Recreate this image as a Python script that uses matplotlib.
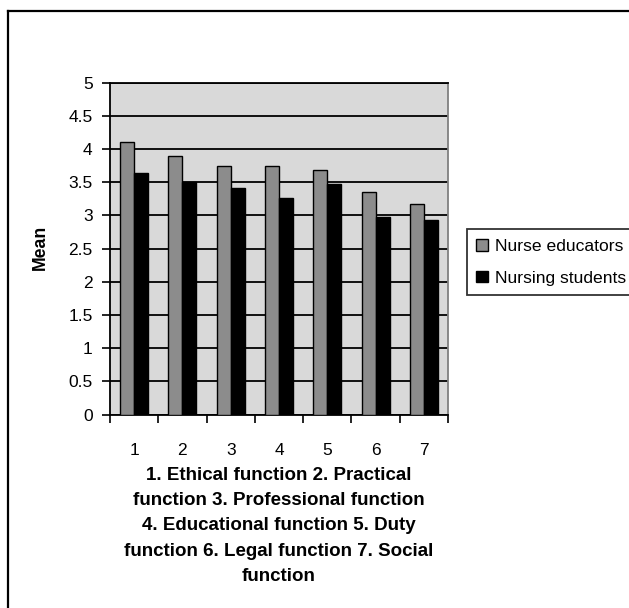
import matplotlib
matplotlib.use('Agg')
import matplotlib.pyplot as plt
from matplotlib.patches import Patch
from matplotlib.lines import Line2D
import numpy as np

plt.rcParams['font.family'] = ['Liberation Sans', 'DejaVu Sans']

# mean score per function (1..7)
functions = ['1', '2', '3', '4', '5', '6', '7']
educators = [4.10, 3.89, 3.74, 3.74, 3.68, 3.35, 3.18]
students = [3.64, 3.50, 3.41, 3.26, 3.47, 2.98, 2.93]
series_names = ['Nurse educators', 'Nursing students']
xlabel_text = ('1. Ethical function 2. Practical\n'
               'function 3. Professional function\n'
               '4. Educational function 5. Duty\n'
               'function 6. Legal function 7. Social\n'
               'function')

W, H = 629, 608
fig = plt.figure(figsize=(W / 100, H / 100), dpi=100)
ax = fig.add_axes([110 / W, 1 - 414.7 / H, 338 / W, 332 / H])
ax.set_facecolor('#d9d9d9')

x = np.arange(1, len(functions) + 1)
bw = 0.29
ax.bar(x - bw / 2, educators, bw, color='#8c8c8c', edgecolor='black', linewidth=1.0, zorder=3)
ax.bar(x + bw / 2, students, bw, color='black', edgecolor='black', linewidth=1.0, zorder=3)

ax.set_xlim(0.5, 7.5)
ax.set_ylim(0, 5)
ax.set_yticks(np.arange(0, 5.01, 0.5))
ax.set_yticklabels(['0', '0.5', '1', '1.5', '2', '2.5', '3', '3.5', '4', '4.5', '5'])
ax.yaxis.grid(True, color='black', linewidth=1.3, zorder=1)
ax.set_axisbelow(True)

# category boundary ticks, labels at centres
ax.set_xticks(np.arange(0.5, 7.6, 1))
ax.set_xticklabels([])
ax.set_xticks(x, minor=True)
ax.set_xticklabels(functions, minor=True)
ax.tick_params(axis='x', which='major', direction='out', length=6, width=1.2, color='black')
ax.tick_params(axis='x', which='minor', length=0, pad=20.5, labelsize=12.5)
ax.tick_params(axis='y', direction='out', length=6, width=1.2, pad=6.5, labelsize=12.5)

for side in ('left', 'bottom', 'top'):
    ax.spines[side].set_color('black')
    ax.spines[side].set_linewidth(1.3)
ax.spines['right'].set_color('#808080')
ax.spines['right'].set_linewidth(1.3)

fig.text(40 / W, 1 - 247 / H, 'Mean', rotation=90, ha='center', va='center',
         fontsize=12.7, fontweight='bold')
fig.text(279 / W, 1 - 467 / H, xlabel_text, ha='center', va='top',
         fontsize=13.5, fontweight='bold', linespacing=1.63)

handles = [Patch(facecolor='#8c8c8c', edgecolor='black', linewidth=1.0),
           Patch(facecolor='black', edgecolor='black', linewidth=1.0)]
leg = fig.legend(handles, series_names, loc='upper left',
                 bbox_to_anchor=(466.7 / W, 1 - 229.3 / H), borderaxespad=0,
                 fontsize=12.6, frameon=True, fancybox=False, handlelength=0.65,
                 handleheight=0.65, handletextpad=0.4, labelspacing=0.95,
                 borderpad=0.55)
leg.get_frame().set_edgecolor('black')
leg.get_frame().set_linewidth(1.3)

# outer chart border (left and top edges)
fig.add_artist(Line2D([7.5 / W, 7.5 / W], [0, 1 - 11 / H], color='black', linewidth=1.6))
fig.add_artist(Line2D([7.5 / W, 1], [1 - 11 / H, 1 - 11 / H], color='black', linewidth=1.6))

fig.savefig('out.png', dpi=100)
